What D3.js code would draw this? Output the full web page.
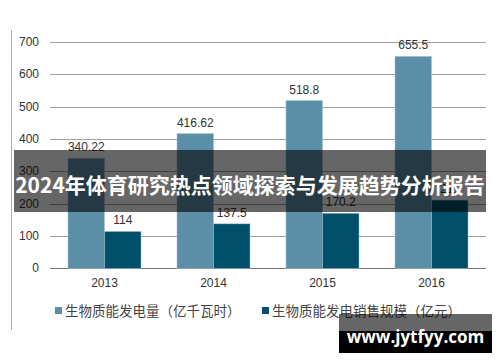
<!DOCTYPE html>
<html>
  <head>
    <meta charset="utf-8" />
    <style>
      html,
      body {
        margin: 0;
        padding: 0;
        background: #fff;
      }
      svg {
        display: block;
      }
    </style>
  </head>
  <body>
    <script src="https://cdn.jsdelivr.net/npm/d3@7"></script>
    <script>
      const years = ['2013', '2014', '2015', '2016'];
      const power = [340.22, 416.62, 518.8, 655.5];
      const sales = [114, 137.5, 170.2, 211];
      const yTicks = [0, 100, 200, 300, 400, 500, 600, 700];
      const seriesNames = ['生物质能发电量（亿千瓦时）', '生物质能发电销售规模（亿元）'];
      const colors = ['#5b8fa7', '#00506b'];
      const title = '2024年体育研究热点领域探索与发展趋势分析报告';
      const watermark = 'www.jytfyy.com';

      const width = 500;
      const height = 362;
      const svg = d3
        .select('body')
        .append('svg')
        .attr('width', width)
        .attr('height', height);

      const latin = 'Liberation Sans, Arial, sans-serif';
      const cjk = '"Noto Sans CJK SC", sans-serif';

      const x = d3
        .scaleBand()
        .domain(years)
        .range([50, 486])
        .paddingInner(0.33)
        .paddingOuter(0.165);
      const x1 = d3.scaleBand().domain([0, 1]).range([0, x.bandwidth()]);
      const y = d3.scaleLinear().domain([0, 700]).range([268.3, 42]);

      // left frame line
      svg
        .append('line')
        .attr('x1', 11.5)
        .attr('x2', 11.5)
        .attr('y1', 30)
        .attr('y2', 330)
        .attr('stroke', '#b0b0b0');

      // gridlines
      svg
        .append('g')
        .selectAll('line')
        .data(yTicks)
        .enter()
        .append('line')
        .attr('x1', 50)
        .attr('x2', 486)
        .attr('y1', (d) => Math.round(y(d)) + 0.5)
        .attr('y2', (d) => Math.round(y(d)) + 0.5)
        .attr('stroke', (d) => (d === 0 ? '#777' : '#a0a0a0'))
        .attr('stroke-width', (d) => (d === 0 ? 1.2 : 1));

      // y tick labels
      svg
        .append('g')
        .selectAll('text')
        .data(yTicks)
        .enter()
        .append('text')
        .attr('x', 39)
        .attr('y', (d) => y(d) + 4)
        .attr('text-anchor', 'end')
        .attr('font-family', latin)
        .attr('font-size', 12)
        .attr('fill', '#333')
        .text((d) => d);

      const series = [power, sales];
      series.forEach((vals, si) => {
        const g = svg.append('g');
        g.selectAll('rect')
          .data(vals)
          .enter()
          .append('rect')
          .attr('x', (d, i) => x(years[i]) + x1(si))
          .attr('y', (d) => y(d))
          .attr('width', x1.bandwidth())
          .attr('height', (d) => y(0) - y(d))
          .attr('fill', colors[si])
          .attr('stroke', '#a8c4d2')
          .attr('stroke-width', 0.5);
        g.selectAll('text')
          .data(vals)
          .enter()
          .append('text')
          .attr('x', (d, i) => x(years[i]) + x1(si) + x1.bandwidth() / 2)
          .attr('y', (d) => y(d) - 7)
          .attr('text-anchor', 'middle')
          .attr('font-family', latin)
          .attr('font-size', 12)
          .attr('fill', '#333')
          .text((d) => d);
      });

      // x labels
      svg
        .append('g')
        .selectAll('text')
        .data(years)
        .enter()
        .append('text')
        .attr('x', (d) => x(d) + x.bandwidth() / 2)
        .attr('y', 287)
        .attr('text-anchor', 'middle')
        .attr('font-family', latin)
        .attr('font-size', 12)
        .attr('fill', '#333')
        .text((d) => d);

      // legend
      const legendX = [55, 262];
      seriesNames.forEach((name, i) => {
        svg
          .append('rect')
          .attr('x', legendX[i])
          .attr('y', 307)
          .attr('width', 7)
          .attr('height', 7)
          .attr('fill', colors[i]);
        svg
          .append('text')
          .attr('x', legendX[i] + 10)
          .attr('y', 315.5)
          .attr('font-family', cjk)
          .attr('font-size', 13.5)
          .attr('fill', '#444')
          .text(name);
      });

      // title banner
      svg
        .append('rect')
        .attr('x', 14)
        .attr('y', 150)
        .attr('width', 472)
        .attr('height', 62)
        .attr('fill', 'rgba(0,0,0,0.6)');
      svg
        .append('text')
        .attr('x', 250)
        .attr('y', 193)
        .attr('text-anchor', 'middle')
        .attr('font-family', cjk)
        .attr('font-weight', 'bold')
        .attr('font-size', 21)
        .attr('fill', '#fff')
        .text(title);

      // watermark
      svg
        .append('rect')
        .attr('x', 339)
        .attr('y', 314)
        .attr('width', 153)
        .attr('height', 17)
        .attr('fill', 'rgba(0,0,0,0.6)');
      svg
        .append('rect')
        .attr('x', 339)
        .attr('y', 331)
        .attr('width', 153)
        .attr('height', 22)
        .attr('fill', '#000');
      svg
        .append('text')
        .attr('x', 415.5)
        .attr('y', 343)
        .attr('text-anchor', 'middle')
        .attr('font-family', '"Open Sans", "DejaVu Sans", sans-serif')
        .attr('font-weight', 'bold')
        .attr('font-size', 17)
        .attr('fill', '#fff')
        .text(watermark);
    </script>
  </body>
</html>
